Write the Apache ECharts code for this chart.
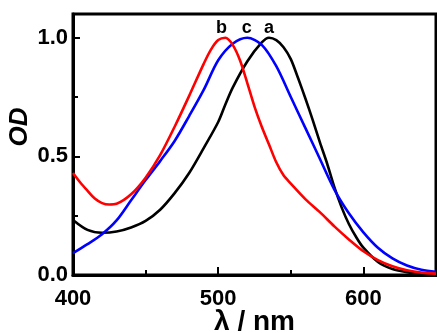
<!DOCTYPE html>
<html>
<head>
<meta charset="utf-8">
<script src="https://cdn.jsdelivr.net/npm/echarts@6/dist/echarts.min.js"></script>
<style>
html,body{margin:0;padding:0;background:#fff;}
#c{width:437px;height:333px;}
</style>
</head>
<body>
<div id="c"></div>
<script>
// Curve a (black)
const aX = [400,410,420,430,440,450,460,470,480,490,500,505,510,520,530,535,540,545,550,555,560,565,570,575,580,585,590,595,600,610,620,630,640,650];
const aY = [0.232,0.19,0.178,0.183,0.2,0.228,0.275,0.345,0.43,0.535,0.645,0.72,0.79,0.9,0.98,1.0,0.99,0.96,0.91,0.83,0.745,0.655,0.56,0.47,0.37,0.285,0.215,0.16,0.115,0.055,0.025,0.012,0.006,0.004];
// Curve b (red)
const bX = [400,405,410,415,420,425,430,440,450,460,470,480,490,495,500,505,510,515,520,525,530,535,540,545,550,560,570,580,590,600,610,620,630,640,650];
const bY = [0.43,0.39,0.355,0.322,0.303,0.297,0.3,0.34,0.41,0.505,0.625,0.755,0.89,0.95,0.99,1.0,0.97,0.905,0.81,0.71,0.625,0.55,0.475,0.42,0.385,0.32,0.265,0.205,0.15,0.1,0.063,0.037,0.02,0.01,0.006];
// Curve c (blue)
const cX = [400,410,420,430,440,450,460,470,480,490,500,510,520,530,540,550,560,570,580,590,600,610,620,630,640,650];
const cY = [0.092,0.13,0.172,0.23,0.315,0.4,0.48,0.565,0.67,0.78,0.905,0.975,1.0,0.97,0.88,0.75,0.62,0.49,0.36,0.26,0.18,0.115,0.07,0.04,0.022,0.014];
// Peak labels
const peakNames = ['b','c','a'];
const peakX = [502.3,519.6,535];
const peakY = [1.005,1.005,1.003];

const xTickLabels = [400,500,600];
const yTickLabels = [0.0,0.5,1.0];

const zip = (xs, ys) => xs.map((x,i)=>[x, ys[i]]);
const font = '"Liberation Sans", Arial, sans-serif';

const chart = echarts.init(document.getElementById('c'), null, {renderer:'canvas'});
chart.setOption({
  animation:false,
  backgroundColor:'#fff',
  grid:{left:73, right:1, top:14, bottom:58, containLabel:false, outerBoundsMode:'none', show:true, borderColor:'#000', borderWidth:3, backgroundColor:'transparent'},
  xAxis:{
    type:'value', min:400, max:650, interval:100,
    name:'λ / nm', nameLocation:'middle', nameGap:33, nameMoveOverlap:false,
    nameTextStyle:{fontFamily:font, fontWeight:'bold', fontSize:28, color:'#000'},
    axisLine:{show:true, onZero:false, lineStyle:{color:'#000', width:3}},
    axisTick:{show:true, inside:true, length:8, lineStyle:{color:'#000', width:2}},
    minorTick:{show:true, splitNumber:2, length:5, lineStyle:{color:'#000', width:2}},
    splitLine:{show:false},
    axisLabel:{fontFamily:font, fontWeight:'bold', fontSize:22, color:'#000', margin:13, showMaxLabel:false,
      formatter:(v)=> xTickLabels.includes(v) ? String(v) : ''}
  },
  yAxis:{
    type:'value', min:0, max:1.1, interval:0.5,
    axisLine:{show:true, onZero:false, lineStyle:{color:'#000', width:3}},
    axisTick:{show:true, inside:true, length:7, lineStyle:{color:'#000', width:2}},
    minorTick:{show:true, splitNumber:2, length:5, lineStyle:{color:'#000', width:2}},
    splitLine:{show:false},
    axisLabel:{fontFamily:font, fontWeight:'bold', fontSize:22, color:'#000', margin:5, showMaxLabel:false,
      formatter:(v)=> { const m = yTickLabels.find(t=>Math.abs(t-v)<1e-6); return m===undefined ? '' : m.toFixed(1); }}
  },
  graphic:[{
    type:'text', x:20, y:127, rotation:Math.PI/2,
    style:{text:'OD', fontFamily:font, fontWeight:'bold', fontStyle:'italic', fontSize:26, fill:'#000', align:'center', verticalAlign:'middle'}
  }],
  series:[
    {type:'line', data:zip(aX,aY), smooth:0.3, showSymbol:false, lineStyle:{color:'#000', width:2.6}, z:3},
    {type:'line', data:zip(cX,cY), smooth:0.3, showSymbol:false, lineStyle:{color:'#0000ff', width:2.6}, z:4},
    {type:'line', data:zip(bX,bY), smooth:0.3, showSymbol:false, lineStyle:{color:'#ff0000', width:2.6}, z:5},
    {type:'scatter', symbolSize:0, z:6, itemStyle:{opacity:1, color:'#000'},
      data: peakNames.map((n,i)=>({name:n, value:[peakX[i], peakY[i]]})),
      label:{show:true, position:'top', distance:0, formatter:'{b}', fontFamily:font, fontWeight:'bold', fontSize:18, color:'#000', opacity:1}
    }
  ]
});
</script>
</body>
</html>
